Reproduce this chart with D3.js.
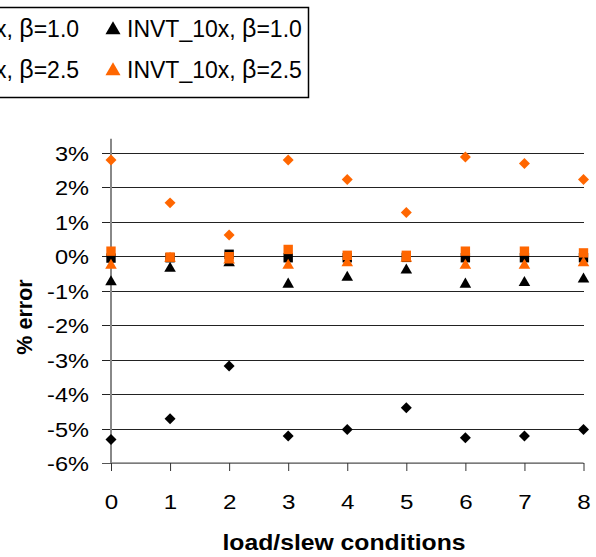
<!DOCTYPE html>
<html>
<head>
<meta charset="utf-8">
<script src="https://cdn.jsdelivr.net/npm/d3@7"></script>
<style>
  body { margin: 0; background: #fff; }
  svg { display: block; font-family: "Liberation Sans", Arial, sans-serif; }
</style>
</head>
<body>
<svg width="596" height="557"></svg>
<script>
// load/slew condition index
const conditions = [0, 1, 2, 3, 4, 5, 6, 7, 8];
const yTicks = [3, 2, 1, 0, -1, -2, -3, -4, -5, -6];

// % error per series
const invt1xB10 = [-5.32, -4.72, -3.19, -5.22, -5.03, -4.40, -5.27, -5.22, -5.03];
const invt1xB25 = [2.78, 1.54, 0.61, 2.78, 2.22, 1.26, 2.87, 2.68, 2.22];
const invt4xB10 = [-0.06, -0.05, 0.05, -0.05, -0.05, -0.04, -0.05, -0.05, -0.05];
const invt4xB25 = [0.14, -0.03, -0.02, 0.19, 0.02, 0.02, 0.14, 0.14, 0.09];
const invt10xB10 = [-0.75, -0.36, -0.2, -0.82, -0.62, -0.41, -0.82, -0.77, -0.67];
const invt10xB25 = [-0.27, -0.07, -0.12, -0.27, -0.2, -0.07, -0.27, -0.27, -0.2];

const legendNames = ["INVT_1x", "INVT_4x", "INVT_10x"];
const betas = ["1.0", "2.5"];

const series = [
  { values: invt1xB10, shape: "diamond", color: "#000" },
  { values: invt1xB25, shape: "diamond", color: "#ff6600" },
  { values: invt4xB10, shape: "square", color: "#000" },
  { values: invt4xB25, shape: "square", color: "#ff6600" },
  { values: invt10xB10, shape: "triangle", color: "#000" },
  { values: invt10xB25, shape: "triangle", color: "#ff6600" }
];

const svg = d3.select("svg");
const stretch = 1.15;

const x = d3.scaleLinear().domain([0, 8]).range([111, 583.5]);
const y = d3.scaleLinear().domain([-6, 3]).range([463, 152.5]);

const symbolPath = (shape, big) => {
  const k = big ? 1.7 : 1;
  if (shape === "diamond") return d3.symbol(d3.symbolSquare, 60 * k)();
  if (shape === "square") return d3.symbol(d3.symbolSquare, 88 * k)();
  return d3.symbol(d3.symbolTriangle, 58 * k)();
};

// gridlines + left ticks
const yAxis = svg.append("g")
  .attr("transform", "translate(111,0)")
  .call(d3.axisLeft(y).tickValues(yTicks).tickSizeInner(-(583.5 - 111)).tickSizeOuter(0).tickFormat(d => d + "%"));
yAxis.select(".domain").remove();
yAxis.selectAll(".tick line")
  .attr("x1", -9)
  .attr("stroke", d => d === -6 ? "#555" : "#222")
  .attr("stroke-width", 1)
  .attr("shape-rendering", "crispEdges");
yAxis.selectAll(".tick text")
  .attr("x", null).attr("dy", null)
  .attr("transform", "translate(-22,7.5) scale(" + stretch + ",1)")
  .attr("text-anchor", "end")
  .attr("fill", "#000")
  .attr("font-size", 20.5)
  .attr("font-family", "Liberation Sans, Arial, sans-serif");

// bottom axis
const xAxis = svg.append("g")
  .attr("transform", "translate(0," + y(-6) + ")")
  .call(d3.axisBottom(x).tickValues(conditions).tickSize(8).tickFormat(d3.format("d")));
xAxis.select(".domain").attr("stroke", "#888").attr("stroke-width", 1.5).attr("d", "M111,0H583.5");
xAxis.selectAll(".tick line").attr("stroke", "#333");
xAxis.selectAll(".tick text")
  .attr("y", null).attr("dy", null)
  .attr("transform", "translate(0,45.5) scale(" + stretch + ",1)")
  .attr("fill", "#000")
  .attr("font-size", 21)
  .attr("font-family", "Liberation Sans, Arial, sans-serif");

// vertical axis line
svg.append("line")
  .attr("x1", x(0)).attr("x2", x(0))
  .attr("y1", y(3.4)).attr("y2", y(-6))
  .attr("stroke", "#888")
  .attr("stroke-width", 2);

// markers
series.forEach(s => {
  svg.append("g").selectAll("path")
    .data(s.values)
    .join("path")
    .attr("d", symbolPath(s.shape, false))
    .attr("transform", (v, i) => "translate(" + x(conditions[i]) + "," + y(v) + ")" + (s.shape === "diamond" ? " rotate(45)" : ""))
    .attr("fill", s.color);
});

// axis titles
svg.append("text")
  .attr("transform", "translate(344,550) scale(" + stretch + ",1)")
  .attr("text-anchor", "middle")
  .attr("font-size", 21.5)
  .attr("font-weight", "bold")
  .text("load/slew conditions");

svg.append("text")
  .attr("transform", "translate(32,317) rotate(-90)")
  .attr("text-anchor", "middle")
  .attr("font-size", 21.5)
  .attr("font-weight", "bold")
  .text("% error");

// legend (cut off at the left edge)
const legend = svg.append("g");
legend.append("rect")
  .attr("x", -500).attr("y", 7.5)
  .attr("width", 809 - 0.5).attr("height", 90)
  .attr("fill", "#fff")
  .attr("stroke", "#000")
  .attr("stroke-width", 1.5);

const colX = [-307, -97, 113];
const rowY = [29, 70];
series.forEach((s, i) => {
  const col = Math.floor(i / 2), row = i % 2;
  const g = legend.append("g").attr("transform", "translate(" + colX[col] + "," + rowY[row] + ")");
  g.append("path")
    .attr("d", symbolPath(s.shape, true))
    .attr("transform", s.shape === "diamond" ? "rotate(45)" : "translate(0,1)")
    .attr("fill", s.color);
  const t = g.append("text")
    .attr("x", 14).attr("y", 8)
    .attr("font-size", 23)
    .attr("fill", "#000");
  t.append("tspan").text(legendNames[col] + ", ");
  t.append("tspan").attr("font-size", 25).text("β");
  t.append("tspan").text("=" + betas[row]);
});
</script>
</body>
</html>
